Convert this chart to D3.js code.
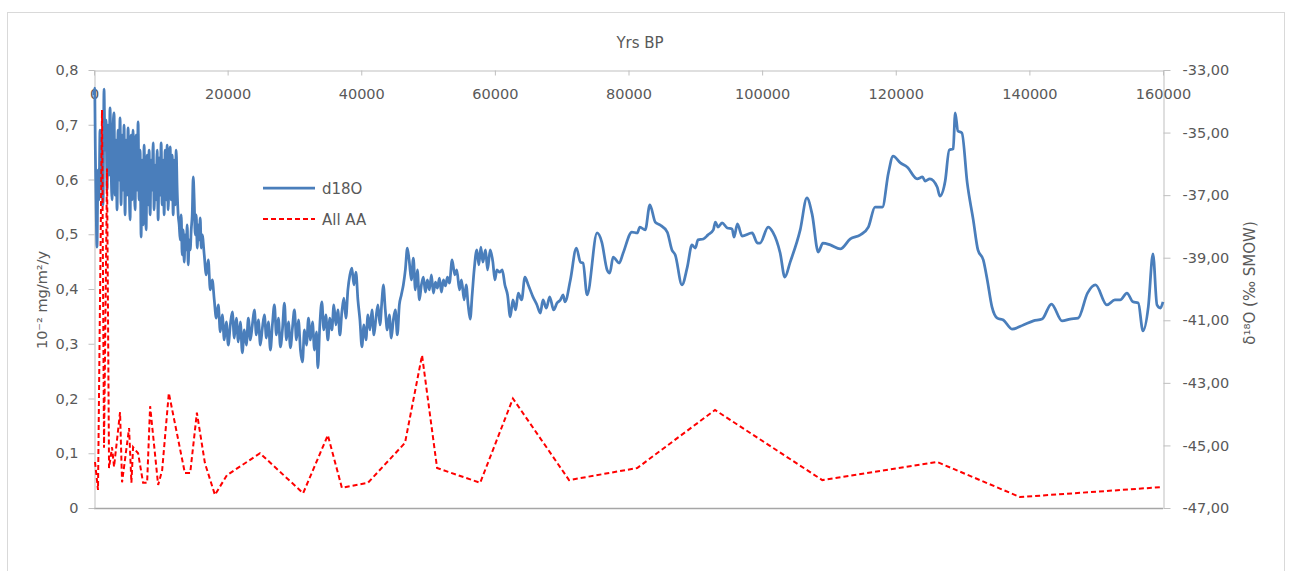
<!DOCTYPE html>
<html>
<head>
<meta charset="utf-8">
<script src="https://cdn.jsdelivr.net/npm/d3@7"></script>
<style>
  body { margin: 0; background: #fff; }
  text { font-family: "DejaVu Sans", sans-serif; fill: #595959; }
</style>
</head>
<body>
<svg id="chart" width="1289" height="571"></svg>
<script>
// Axis tick values
const yearTicks = [0, 20000, 40000, 60000, 80000, 100000, 120000, 140000, 160000];
const fluxTicks = [0, 0.1, 0.2, 0.3, 0.4, 0.5, 0.6, 0.7, 0.8];
const isoTicks = [-47, -45, -43, -41, -39, -37, -35, -33];

// Series names
const seriesNames = ["d18O", "All AA"];

// All AA flux (10^-2 mg/m2/y) by age (yrs BP)
const aaYears = [150, 600, 1200, 1500, 1950, 2250, 2700, 3000, 3900, 4200, 5250, 5600, 5850, 6600,
  7350, 7950, 8400, 9600, 10200, 11200, 13600, 14400, 15400, 16600, 18100, 19900, 24850, 31300,
  35000, 37100, 41000, 46550, 49100, 51350, 57800, 62700, 71100, 81300, 92950, 109000, 126200,
  138600, 159600];
const aaValues = [0.084, 0.033, 0.727, 0.11, 0.62, 0.073, 0.111, 0.075, 0.175, 0.047, 0.146, 0.046,
  0.111, 0.10, 0.046, 0.046, 0.186, 0.042, 0.069, 0.21, 0.064, 0.064, 0.174, 0.082, 0.024, 0.06,
  0.10, 0.027, 0.133, 0.037, 0.046, 0.119, 0.279, 0.073, 0.046, 0.20, 0.051, 0.073, 0.179, 0.051,
  0.084, 0.02, 0.038];

// d18O (permil SMOW) by age (yrs BP): [age, value]
const d18O = [
  [0,-33.80],[100,-33.58],[200,-35.56],[300,-37.15],[450,-38.66],[600,-36.20],[750,-37.15],[900,-34.92],
  [1050,-36.68],[1200,-35.24],[1350,-37.31],[1500,-33.61],[1650,-35.56],[1800,-34.60],[1950,-36.84],
  [2100,-34.76],[2250,-36.36],[2400,-34.21],[2550,-36.04],[2700,-37.15],[2850,-34.85],[3000,-34.37],
  [3150,-37.00],[3300,-35.24],[3450,-37.47],[3600,-34.92],[3750,-36.52],[3900,-34.53],[4050,-37.31],
  [4200,-35.08],[4350,-36.84],[4500,-34.76],[4650,-37.63],[4800,-35.24],[4950,-37.00],[5100,-34.85],
  [5250,-36.52],[5400,-37.79],[5550,-35.08],[5700,-37.15],[5850,-34.92],[6000,-36.36],[6150,-37.47],
  [6300,-35.08],[6450,-36.84],[6600,-34.66],[6750,-37.15],[6900,-35.56],[7050,-38.34],[7200,-35.88],
  [7350,-37.95],[7500,-35.40],[7650,-37.15],[7800,-38.11],[7950,-35.72],[8100,-37.31],[8250,-35.56],
  [8400,-37.63],[8550,-35.88],[8700,-36.84],[8850,-35.33],[9000,-37.47],[9150,-36.04],[9300,-37.15],
  [9450,-35.56],[9600,-37.79],[9750,-35.81],[9900,-37.00],[10050,-35.33],[10200,-37.31],[10350,-35.88],
  [10500,-37.63],[10650,-35.56],[10800,-37.15],[10950,-35.40],[11100,-37.47],[11250,-36.04],[11400,-35.46],
  [11550,-37.15],[11700,-35.72],[11850,-37.63],[12000,-35.88],[12150,-37.31],[12300,-35.56],[12450,-36.84],
  [12600,-37.63],[12750,-37.95],[12900,-38.43],[13050,-37.63],[13200,-38.91],[13350,-38.11],[13500,-39.14],
  [13650,-38.27],[13800,-38.75],[13950,-37.95],[14100,-39.23],[14250,-38.43],[14400,-38.75],[14550,-38.11],
  [14700,-37.63],[14850,-36.42],[15000,-37.15],[15150,-38.27],[15300,-37.63],[15450,-38.69],[15600,-37.95],
  [15750,-38.43],[15900,-37.73],[16050,-38.69],[16200,-38.27],[16500,-38.91],[16800,-39.55],[17100,-39.07],
  [17400,-40.03],[17700,-39.71],[18000,-40.35],[18300,-40.93],[18600,-40.51],[18900,-41.37],[19200,-40.83],
  [19500,-41.63],[19800,-41.05],[20100,-41.79],[20400,-41.15],[20700,-40.73],[21000,-41.57],[21300,-40.93],
  [21600,-41.69],[21900,-41.05],[22200,-42.04],[22500,-41.31],[22800,-41.79],[23100,-40.93],[23400,-41.63],
  [23700,-41.15],[24000,-40.67],[24300,-41.47],[24600,-40.99],[24900,-41.79],[25200,-41.25],[25500,-40.83],
  [25800,-41.57],[26100,-41.05],[26400,-41.95],[26700,-41.15],[27000,-40.51],[27300,-41.47],[27600,-40.93],
  [27900,-41.85],[28200,-41.31],[28500,-40.45],[28800,-41.63],[29100,-41.05],[29400,-41.88],[29700,-41.25],
  [30000,-40.67],[30300,-41.63],[30600,-40.99],[30900,-41.95],[31200,-42.33],[31500,-41.31],[31800,-41.79],
  [32100,-40.93],[32400,-41.63],[32700,-41.05],[33000,-41.95],[33300,-41.37],[33500,-42.52],[33800,-41.15],
  [34100,-40.41],[34400,-41.31],[34700,-40.83],[35000,-41.63],[35300,-40.93],[35600,-41.31],[35900,-40.51],
  [36200,-41.15],[36500,-40.67],[36800,-41.47],[37100,-40.73],[37400,-40.29],[37700,-40.93],[38000,-40.03],
  [38300,-39.55],[38600,-39.33],[38900,-39.87],[39200,-39.46],[39500,-40.35],[39800,-40.99],[40100,-41.85],
  [40400,-41.15],[40700,-41.63],[41000,-40.83],[41300,-41.31],[41600,-40.67],[41900,-41.47],[42200,-40.93],
  [42500,-40.51],[42800,-41.15],[43100,-40.35],[43300,-39.87],[43600,-40.67],[43900,-41.31],[44200,-40.83],
  [44500,-41.57],[44800,-40.99],[45100,-40.67],[45400,-41.47],[45700,-40.51],[46000,-40.19],[46300,-39.87],
  [46600,-39.39],[46900,-38.69],[47200,-39.14],[47500,-39.71],[47800,-39.01],[48100,-40.03],[48400,-39.39],
  [48700,-40.35],[49000,-39.87],[49300,-39.62],[49600,-40.10],[49900,-39.71],[50200,-40.03],[50500,-39.55],
  [50800,-40.13],[51100,-39.78],[51400,-39.97],[51700,-39.65],[52000,-40.10],[52300,-39.71],[52600,-39.90],
  [52900,-39.62],[53200,-39.81],[53600,-39.07],[54000,-39.55],[54300,-39.39],[54700,-40.03],[55000,-39.71],
  [55400,-40.35],[55700,-39.87],[56000,-40.51],[56300,-40.96],[56600,-40.19],[56900,-39.39],[57300,-38.75],
  [57600,-39.23],[57900,-38.66],[58200,-39.14],[58600,-38.75],[58900,-39.39],[59300,-38.75],[59700,-39.14],
  [60000,-39.71],[60300,-39.39],[60700,-39.46],[61100,-39.39],[61500,-39.87],[61900,-40.19],[62300,-40.89],
  [62700,-40.35],[63100,-40.67],[63500,-40.13],[64000,-40.35],[64500,-39.62],[65000,-39.87],[65700,-40.25],
  [66300,-40.51],[66800,-40.77],[67200,-40.35],[67700,-40.61],[68200,-40.25],[68800,-40.67],[69300,-40.45],
  [69800,-40.35],[70200,-40.19],[70500,-40.41],[71300,-39.71],[72200,-38.69],[72800,-39.14],[73200,-39.17],
  [73800,-40.19],[75300,-38.21],[76000,-38.50],[76800,-39.39],[77200,-39.49],[77700,-38.98],[78600,-39.17],
  [79200,-38.85],[80500,-38.18],[81300,-38.21],[81700,-38.02],[82500,-38.11],[83200,-37.31],[84000,-37.86],
  [84700,-37.95],[85800,-38.18],[86500,-38.75],[87000,-38.91],[88000,-39.87],[88800,-39.30],[89500,-38.59],
  [90000,-38.69],[90400,-38.43],[91200,-38.40],[91900,-38.27],[92700,-38.11],[93000,-37.86],[93400,-38.02],
  [94000,-37.89],[94800,-38.05],[95500,-38.08],[95800,-38.34],[96300,-37.92],[97000,-38.31],[98500,-38.21],
  [99300,-38.53],[99700,-38.53],[100900,-38.02],[101600,-38.18],[102700,-38.85],[103400,-39.62],[104200,-39.14],
  [105700,-38.11],[106700,-37.09],[107500,-37.63],[108400,-38.82],[109100,-38.53],[110200,-38.59],[111700,-38.72],
  [113200,-38.40],[114700,-38.27],[115900,-38.02],[116900,-37.38],[118000,-37.38],[118900,-36.29],[119600,-35.75],
  [120700,-35.97],[121700,-36.10],[123200,-36.48],[124000,-36.42],[124400,-36.55],[125100,-36.48],[126200,-36.74],
  [126600,-37.03],[127400,-36.55],[128000,-35.56],[128600,-35.52],[128900,-34.37],[129300,-34.95],[129900,-35.01],
  [130700,-36.61],[131600,-37.79],[132300,-38.75],[133100,-39.07],[133700,-39.71],[134400,-40.57],[135200,-40.93],
  [136100,-40.99],[137400,-41.28],[139100,-41.15],[140600,-41.02],[141900,-40.96],[143300,-40.48],[144900,-41.02],
  [146100,-40.96],[147300,-40.93],[148700,-40.13],[149900,-39.87],[151600,-40.51],[152800,-40.35],[153600,-40.35],
  [154600,-40.13],[155500,-40.41],[156300,-40.45],[157000,-41.34],[157800,-40.57],[158500,-38.88],[159100,-40.51],
  [159600,-40.61],[160000,-40.41]
];

const svg = d3.select("#chart");
const W = 1289, H = 571;
const plot = { left: 94, right: 1163, top: 70, bottom: 508 };

const x = d3.scaleLinear().domain([0, 160000]).range([plot.left, plot.right]);
const yFlux = d3.scaleLinear().domain([0, 0.8]).range([plot.bottom, plot.top]);
const yIso = d3.scaleLinear().domain([-47, -33]).range([plot.bottom, plot.top]);

const locale = d3.formatLocale({ decimal: ",", thousands: "", grouping: [3], currency: ["", ""], minus: "-" });
const fmtFlux = d => d === 0 ? "0" : locale.format(".1f")(d);
const fmtIso = locale.format(".2f");

// Outer chart frame
svg.append("rect")
  .attr("x", 7.5).attr("y", 12.5)
  .attr("width", 1277).attr("height", 570)
  .attr("fill", "#fff").attr("stroke", "#d9d9d9").attr("stroke-width", 1);

// Chart title
svg.append("text")
  .attr("x", 640).attr("y", 48)
  .attr("text-anchor", "middle")
  .style("font-size", "15px")
  .text("Yrs BP");

const axisColor = "#bfbfbf";
function styleAxis(g, size) {
  g.selectAll("path.domain").attr("stroke", axisColor).attr("stroke-width", 1);
  g.selectAll(".tick line").attr("stroke", axisColor);
  g.selectAll(".tick text").attr("fill", "#595959").style("font-size", size)
    .style("font-family", "'DejaVu Sans', sans-serif");
}

// Bottom frame line of the plot area
svg.append("line")
  .attr("x1", plot.left).attr("x2", plot.right)
  .attr("y1", yFlux(0) + 0.5).attr("y2", yFlux(0) + 0.5)
  .attr("stroke", "#a6a6a6").attr("stroke-width", 1.5);

// Left axis: flux
const gLeft = svg.append("g")
  .attr("transform", `translate(${plot.left + 0.5},0)`)
  .call(d3.axisLeft(yFlux).tickValues(fluxTicks).tickFormat(fmtFlux).tickSize(6).tickPadding(10).tickSizeOuter(0));
styleAxis(gLeft, "14.5px");

// Right axis: d18O
const gRight = svg.append("g")
  .attr("transform", `translate(${plot.right + 0.5},0)`)
  .call(d3.axisRight(yIso).tickValues(isoTicks).tickFormat(fmtIso).tickSize(7).tickPadding(12).tickSizeOuter(0));
styleAxis(gRight, "14.5px");

// Top axis: age
const gTop = svg.append("g")
  .attr("transform", `translate(0,${plot.top + 0.5})`)
  .call(d3.axisBottom(x).tickValues(yearTicks).tickFormat(d3.format("d")).tickSize(5).tickPadding(13).tickSizeOuter(0));
styleAxis(gTop, "14.5px");

// Axis titles
svg.append("text")
  .attr("transform", "translate(47,300) rotate(-90)")
  .attr("text-anchor", "middle")
  .style("font-size", "14.5px")
  .text("10\u207B\u00B2 mg/m\u00B2/y");

svg.append("text")
  .attr("transform", "translate(1255,283) rotate(-90)")
  .attr("text-anchor", "middle")
  .style("font-size", "15px")
  .text("\u03B4\u00B9\u2078O (\u2030 SMOW)");

// d18O line
const blue = "#4a7ebb";
const lineIso = d3.line()
  .x(d => x(d[0]))
  .y(d => yIso(d[1]))
  .curve(d3.curveMonotoneX);

svg.append("path")
  .datum(d18O)
  .attr("fill", "none")
  .attr("stroke", blue)
  .attr("stroke-width", 2.75)
  .attr("stroke-linejoin", "round")
  .attr("d", lineIso);

// All AA line
const red = "#ff0000";
const aaData = aaYears.map((yr, i) => [yr, aaValues[i]]);
const lineFlux = d3.line()
  .x(d => x(d[0]))
  .y(d => yFlux(d[1]));

svg.append("path")
  .datum(aaData)
  .attr("fill", "none")
  .attr("stroke", red)
  .attr("stroke-width", 2)
  .attr("stroke-dasharray", "5,3")
  .attr("d", lineFlux);

// Legend
const legend = svg.append("g").attr("transform", "translate(263,188)");
const legendItems = [
  { name: seriesNames[0], color: blue, dash: null, width: 2.75 },
  { name: seriesNames[1], color: red, dash: "5,3", width: 2 }
];
legendItems.forEach((item, i) => {
  const g = legend.append("g").attr("transform", `translate(0,${i * 31})`);
  g.append("line")
    .attr("x1", 0).attr("x2", 52)
    .attr("y1", 0).attr("y2", 0)
    .attr("stroke", item.color)
    .attr("stroke-width", item.width)
    .attr("stroke-dasharray", item.dash);
  g.append("text")
    .attr("x", 59).attr("y", 6)
    .style("font-size", "15px")
    .text(item.name);
});
</script>
</body>
</html>
